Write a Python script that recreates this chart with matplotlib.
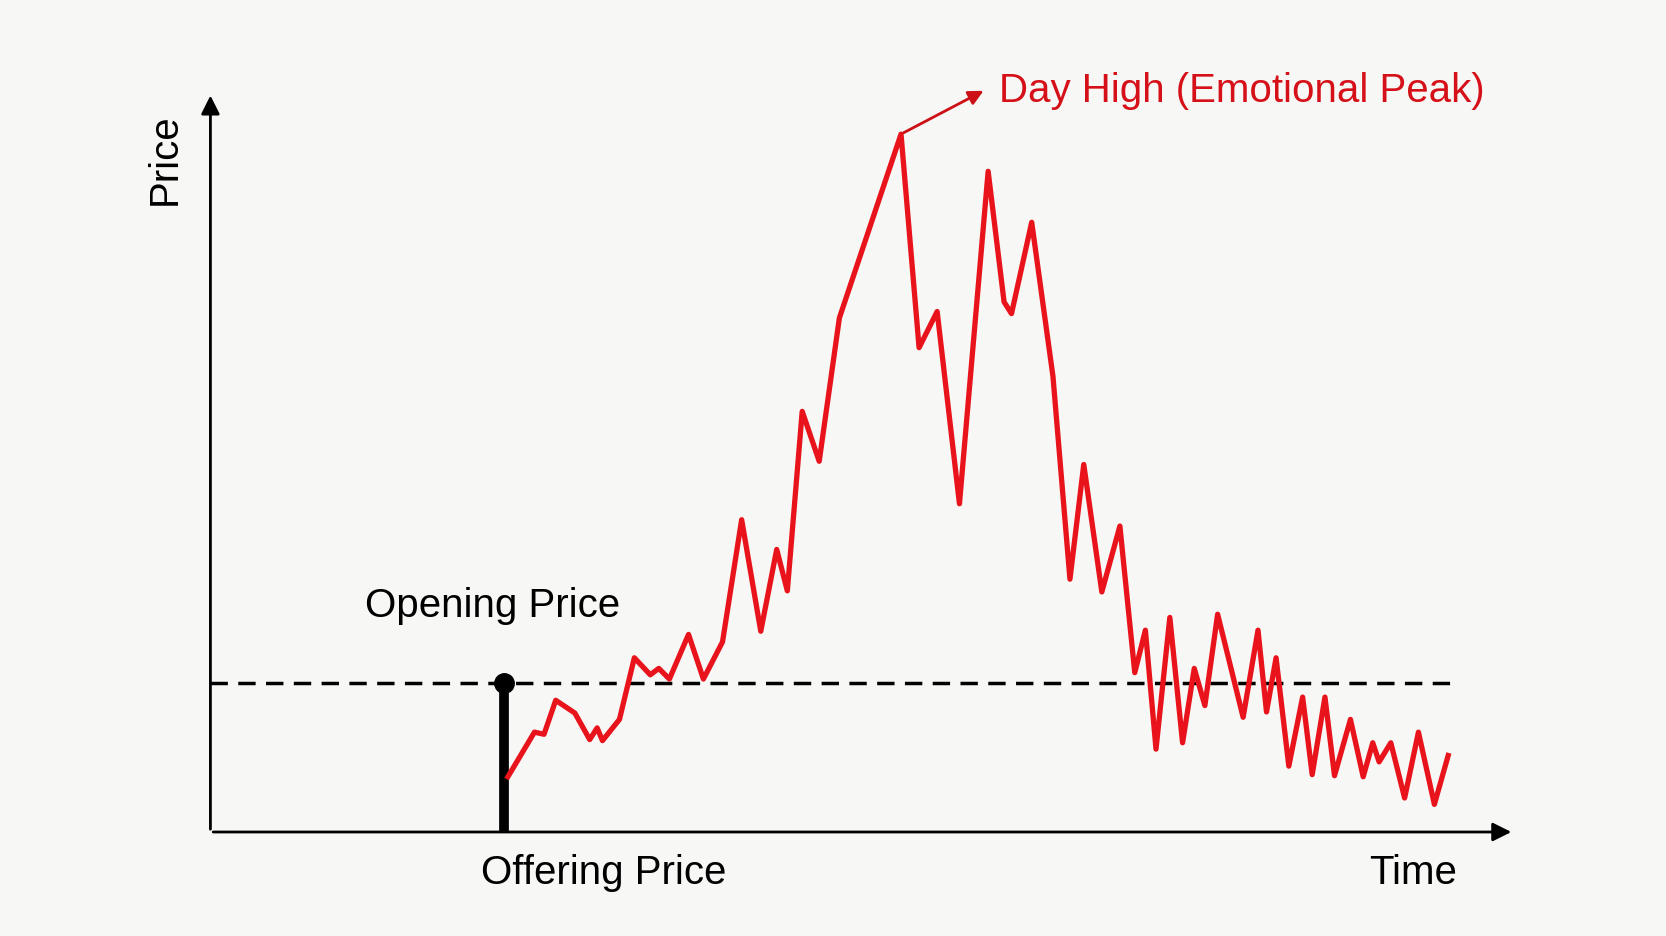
import matplotlib
matplotlib.use("Agg")
import matplotlib.pyplot as plt

plt.rcParams['font.family'] = ['Liberation Sans', 'DejaVu Sans']

# price path (time, price in arbitrary units)
time = [28.0, 30.5, 31.4, 32.5, 34.3, 35.7, 36.4, 36.9, 38.5, 39.9, 41.4, 42.2, 43.2,
        45.0, 46.4, 48.2, 50.0, 51.8, 53.3, 54.3, 55.7, 57.3, 59.2, 65.0, 66.7, 68.4,
        70.5, 73.2, 74.7, 75.4, 77.3, 79.3, 80.9, 82.2, 83.9, 85.6, 87.0, 88.0, 89.0,
        90.3, 91.5, 92.6, 93.6, 94.8, 97.2, 98.6, 99.4, 100.3, 101.5, 102.8, 103.7,
        104.9, 105.8, 107.3, 108.5, 109.4, 110.0, 111.1, 112.4, 113.7, 115.2, 116.5]
price = [5.2, 9.4, 9.2, 12.4, 11.2, 8.7, 9.8, 8.6, 10.6, 16.4, 14.8, 15.4, 14.4,
         18.6, 14.4, 17.9, 29.4, 18.9, 26.6, 22.7, 39.6, 34.9, 48.4, 65.7, 45.6, 49.0,
         30.9, 62.2, 49.9, 48.8, 57.4, 42.9, 23.8, 34.6, 22.6, 28.8, 15.0, 19.0, 7.8,
         20.2, 8.4, 15.4, 11.9, 20.5, 10.8, 19.0, 11.3, 16.4, 6.2, 12.7, 5.4, 12.7,
         5.3, 10.6, 5.2, 8.4, 6.6, 8.4, 3.2, 9.4, 2.6, 7.2]
offer_time = 27.6
open_price = 14.0
peak_time, peak_price = 65.0, 65.7

fig = plt.figure(figsize=(16.66, 9.37), dpi=100, facecolor='#f7f7f5')
ax = fig.add_axes([0.1263, 0.111, 0.7825, 0.789])
ax.set_facecolor('#f7f7f5')
ax.set_xlim(0, 122.7)
ax.set_ylim(0, 69.6)
for s in ax.spines.values():
    s.set_visible(False)
ax.set_xticks([])
ax.set_yticks([])

# axes with arrow heads
ax.annotate('', xy=(1, 0), xytext=(0, 0), xycoords='axes fraction',
            arrowprops=dict(arrowstyle='-|>', lw=2, color='black', mutation_scale=28))
ax.annotate('', xy=(0, 1), xytext=(0, 0), xycoords='axes fraction',
            arrowprops=dict(arrowstyle='-|>', lw=2, color='black', mutation_scale=28))

ax.plot([0, 116.7], [open_price, open_price], color='black', lw=2.5, ls=(0, (5, 3)))
ax.plot([offer_time, offer_time], [0, open_price], color='black', lw=7, solid_capstyle='butt')
ax.plot([offer_time], [open_price], 'o', color='black', ms=14)
ax.plot(time, price, color='#e8131b', lw=3.8)

ax.annotate('', xy=(73.0, 69.9), xytext=(peak_time, peak_price),
            arrowprops=dict(arrowstyle='-|>', lw=2, color='#cc1016', mutation_scale=22),
            annotation_clip=False)
ax.text(74.2, 69.9, 'Day High (Emotional Peak)', color='#d51018', fontsize=29,
        va='center', ha='left', clip_on=False)
ax.text(26.6, 21.4, 'Opening Price', fontsize=29, ha='center', va='center')
ax.text(37.0, -3.8, 'Offering Price', fontsize=29, ha='center', va='center', clip_on=False)
ax.text(113.2, -3.8, 'Time', fontsize=29, ha='center', va='center', clip_on=False)
ax.text(-4.3, 63.4, 'Price', fontsize=29, ha='center', va='center', rotation=90, clip_on=False)

fig.savefig('out.png', dpi=100, facecolor=fig.get_facecolor())
